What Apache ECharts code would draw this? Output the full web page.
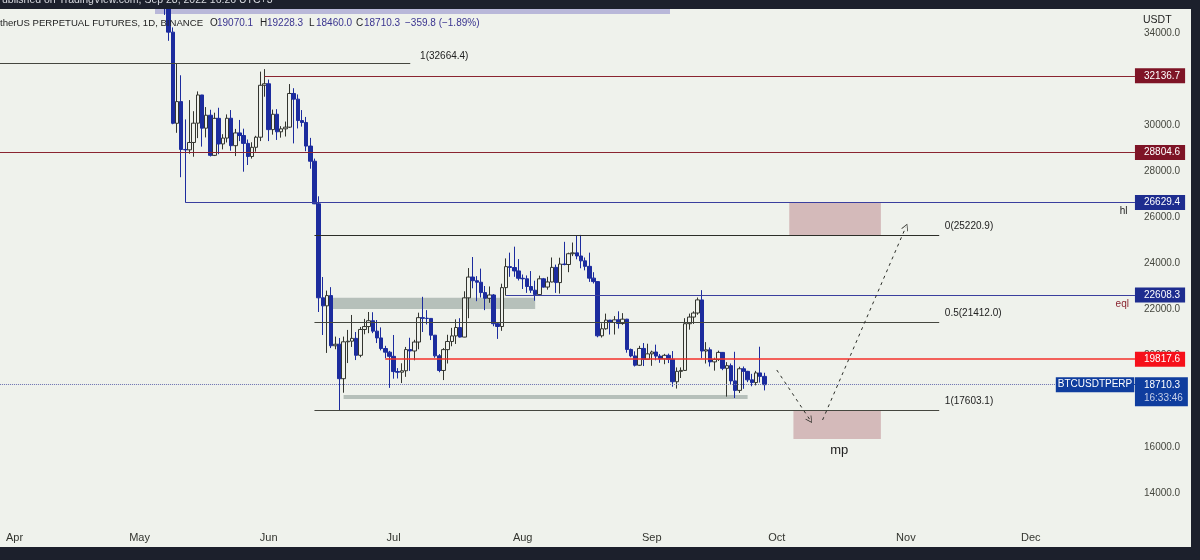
<!DOCTYPE html>
<html>
<head>
<meta charset="utf-8">
<title>BTCUSDTPERP 1D</title>
<script src="https://cdn.jsdelivr.net/npm/echarts@6/dist/echarts.min.js"></script>
<style>
  html, body { margin: 0; padding: 0; background: #1c202c; }
  #chart { width: 1200px; height: 560px; }
</style>
</head>
<body>
<div id="chart"></div>
<script>
// candles, 7 May to 28 Sep 2022, month by month
const firstCandle = "2022-05-07";
const opens = [
  36013,35472,34038,30074,31017,28936,28920,29240,30080,31306,29862,30425,28680,30290,29176,29432,30294,29101,29655,29542,29201,28630,29031,29469,31727,
  31793,29799,30468,29704,29833,29906,31370,31125,30194,30110,29084,28424,26574,22487,22136,22583,20401,20468,18970,20574,20600,20723,19987,21110,21237,21491,21038,20742,20281,20123,
  19942,19279,19252,19315,20236,20175,20564,21624,21594,21591,20862,19963,19328,20234,20588,20830,21195,20779,22485,23389,23231,23164,22714,22465,22609,21361,21239,22930,23843,23804,23656,
  23336,23314,22978,22818,22626,23312,22954,23175,23810,23149,23954,23934,24403,24441,24305,24094,23854,23342,23191,20834,21140,21517,21416,21528,21368,21559,20241,19960,19555,20285,19811,
  20050,20131,19953,19832,19986,19812,18837,19290,19329,21361,21650,21826,22396,20173,20226,19701,19803,20113,19420,19537,18875,18461,19401,19289,18920,18802,19222,19070.1,
];
const closes = [
  35472,34038,30074,31017,28936,28920,29240,30080,31306,29862,30425,28680,30290,29176,29432,30294,29101,29655,29542,29201,28630,29031,29469,31727,31793,
  29799,30468,29704,29833,29906,31370,31125,30194,30110,29084,28424,26574,22487,22136,22583,20401,20468,18970,20574,20600,20723,19987,21110,21237,21491,21038,20742,20281,20123,19942,
  19279,19252,19315,20236,20175,20564,21624,21594,21591,20862,19963,19328,20234,20588,20830,21195,20779,22485,23389,23231,23164,22714,22465,22609,21361,21239,22930,23843,23804,23656,23336,
  23314,22978,22818,22626,23312,22954,23175,23810,23149,23954,23934,24403,24441,24305,24094,23854,23342,23191,20834,21140,21517,21416,21528,21368,21559,20241,19960,19555,20285,19811,20050,
  20131,19953,19832,19986,19812,18837,19290,19329,21361,21650,21826,22396,20173,20226,19701,19803,20113,19420,19537,18875,18461,19401,19289,18920,18802,19222,19070.1,18710.3,
];
const highs = [
  36150,35510,34243,32658,32162,30243,31083,30600,31460,31310,30780,30663,30535,30750,29600,30460,30650,29830,30220,29840,29370,29250,29530,32320,32430,
  31975,30670,30690,29950,30150,31780,31600,31330,30650,30350,29440,28540,26900,23390,22800,22950,20800,20740,20800,21090,21740,21000,21220,21570,21870,21860,21520,21200,20400,20180,
  20870,19430,19640,20350,20750,20660,21840,22530,21950,21600,20870,20040,20300,20880,21180,21550,21600,22770,23780,24260,23430,23756,23000,22980,22650,21400,23100,24200,24450,24710,24170,
  23500,23460,23650,23230,23450,23350,23400,24240,23930,24230,24920,24450,24890,25214,25220.9,24240,24450,23600,23200,21380,21800,21520,21690,21900,21820,21570,20280,20160,20400,20520,20490,
  20190,20450,20040,20050,20060,20170,19460,19460,21600,21800,21900,22500,22820,20560,20330,19880,20190,20130,19690,19630,20140,19490,19500,19310,19180,19310,20360,19228.3,
];
const lows = [
  34785,33660,30033,29660,27730,26629,28751,28620,29430,29060,29460,28630,28650,28730,28940,29240,28880,28650,29300,27970,28260,28540,28840,29300,31230,
  29300,29580,29350,29450,29500,29870,29200,29850,29930,28860,28100,26560,21870,20870,20090,20300,20250,17603,18360,19650,20350,19780,19900,20900,20950,20950,20520,20200,19860,18570,
  18970,18980,18780,19050,19310,19770,20250,21000,21330,20650,19880,19250,18910,19630,20380,20480,20760,20770,21600,22900,22340,22500,21950,22270,21250,20700,21050,22580,23400,23400,23240,
  22870,22700,22700,22360,22590,22930,22840,23160,22700,22670,23900,23600,24300,24160,23770,23680,23180,23110,20770,20760,21100,20890,20890,21150,21310,20100,19900,19500,19530,19520,19800,
  19530,19770,19660,19600,19650,18620,18540,19000,19310,21100,21350,21750,19860,19630,19500,19320,19740,19340,18190,18710,18130,18350,18530,18820,18640,18680,18800,18460,
];

// price levels drawn across the chart
const levelValues = [32664.4, 32136.7, 28804.6, 26629.4, 25220.9, 22608.3, 21412.0, 19817.6, 17603.1];
const levelStarts = ["2022-03-28","2022-05-31","2022-03-28","2022-05-12","2022-06-12","2022-07-28","2022-06-12","2022-06-29","2022-06-12"];
const levelEnds   = ["2022-07-05","2022-12-26","2022-12-26","2022-12-26","2022-11-09","2022-12-26","2022-11-09","2022-12-26","2022-11-09"];
const levelTags   = ["", "32136.7", "28804.6", "26629.4", "", "22608.3", "", "19817.6", ""];

// zones: start, end, top price, bottom price
const zoneStarts  = ["2022-06-16","2022-06-19","2022-10-04","2022-10-05"];
const zoneEnds    = ["2022-08-04","2022-09-24","2022-10-26","2022-10-26"];
const zoneTops    = [22490, 18260, 26629.4, 17603.1];
const zoneBottoms = [22000, 18090, 25220.9, 16350];

// dashed projection
const pathDates  = ["2022-10-01","2022-10-09","2022-10-12","2022-11-01"];
const pathPrices = [19348, 17174, 17174, 25565];

// text notes on the chart
const noteTexts  = ["1(32664.4)","0(25220.9)","0.5(21412.0)","1(17603.1)","mp","hl","eql"];
const noteDates  = ["2022-07-07","2022-11-10","2022-11-10","2022-11-10","2022-10-16","2022-12-22","2022-12-21"];
const notePrices = [33000, 25609, 21826, 18000, 15870, 26261, 22217];

// header strip
const headerTexts = ["O","19070.1","H","19228.3","L","18460.0","C","18710.3","\u2212359.8 (\u22121.89%)"];
const lastPrice = 18710.3;
const lastTimer = "16:33:46";

const FONT = "Liberation Sans";
const BG = "#eff2ec";
const FRAME = "#1c202c";
const BLUE = "#1c2c9e";
const HOLLOW = "#33352f";
const MAROON = "#8a2530";

const levelColors = ["#45473f", MAROON, MAROON, "#3a3f9e", "#2c2e28", "#3a3f9e", "#45473f", "#f5302a", "#45473f"];
const levelWidths = [1.2, 1.2, 1.2, 1.2, 1.2, 1.2, 1.2, 1.5, 1.2];
const tagColors   = ["", "#7e1426", "#7e1426", "#1e2d8f", "", "#1e2d8f", "", "#f6101a", ""];
const zoneColors  = ["#b6c0ba", "#b6c0ba", "#d4baba", "#d4baba"];
const noteColors  = ["#222", "#222", "#222", "#222", "#222", "#222", MAROON];
const noteSizes   = [10, 10, 10, 10, 13, 10, 10];
const headerX     = [210, 217, 260, 267, 309, 316, 356, 364, 405];
const arrowHead = "path://M0,0 L6,10 L5,10.8 L0,2 L-5,10.8 L-6,10 Z";

function dayList(from, to) {
  const days = [];
  const d = new Date(from + "T00:00:00Z");
  const end = new Date(to + "T00:00:00Z");
  while (d <= end) {
    days.push(d.toISOString().slice(0, 10));
    d.setUTCDate(d.getUTCDate() + 1);
  }
  return days;
}

const categories = dayList("2022-03-28", "2022-12-26");
const MONTHS = ["Jan","Feb","Mar","Apr","May","Jun","Jul","Aug","Sep","Oct","Nov","Dec"];
const startIndex = categories.indexOf(firstCandle);

const candleData = categories.map((day, i) => {
  const k = i - startIndex;
  if (k < 0 || k >= opens.length) return "-";
  return [opens[k], closes[k], lows[k], highs[k]];
});

const levelLines = levelValues.map((value, i) => {
  const line = [
    { coord: [levelStarts[i], value] },
    { coord: [levelEnds[i], value] },
  ];
  line[0].lineStyle = { color: levelColors[i], width: levelWidths[i], type: "solid", opacity: 1 };
  line[0].label = levelTags[i] ? {
    show: true, position: "end", distance: 0, formatter: levelTags[i],
    color: "#fff", backgroundColor: tagColors[i], padding: [3, 5, 2, 9],
    fontFamily: FONT, fontSize: 10,
  } : { show: false };
  return line;
});

const lastLine = [
  { coord: ["2022-03-28", lastPrice],
    lineStyle: { color: "#6a70b0", width: 1, type: "dotted", opacity: 1 },
    label: { show: true, position: "end", distance: 0, formatter: "BTCUSDTPERP", color: "#fff",
      backgroundColor: "#0f3d9e", padding: [3, 2, 2, 2], fontFamily: FONT, fontSize: 10 } },
  { coord: ["2022-12-07", lastPrice] },
];
const lastTag = [
  { coord: ["2022-12-25", lastPrice],
    lineStyle: { color: "#0f3d9e", width: 1, type: "solid", opacity: 1 },
    label: { show: true, position: "end", distance: 0, offset: [0, 7], formatter: lastPrice.toFixed(1) + "\n{t|" + lastTimer + "}",
      color: "#fff", backgroundColor: "#0f3d9e", padding: [2, 5, 1, 9], fontFamily: FONT, fontSize: 10, lineHeight: 13,
      rich: { t: { color: "#c6cfe8", fontFamily: FONT, fontSize: 10, lineHeight: 13 } } } },
  { coord: ["2022-12-26", lastPrice] },
];

function arrowLine(a, b) {
  return [
    { coord: [pathDates[a], pathPrices[a]], symbol: "none",
      lineStyle: { color: "#2c2e28", width: 1, type: [3, 4], opacity: 1 }, label: { show: false } },
    { coord: [pathDates[b], pathPrices[b]], symbol: arrowHead, symbolSize: 7 },
  ];
}

const chart = echarts.init(document.getElementById("chart"));

chart.setOption({
  animation: false,
  backgroundColor: BG,
  textStyle: { fontFamily: FONT },
  grid: { left: -4.17, top: 10, width: 1141.2, height: 529, containLabel: false, outerBoundsMode: "none" },
  xAxis: {
    type: "category",
    data: categories,
    boundaryGap: true,
    axisLine: { show: false },
    axisTick: { show: false },
    splitLine: { show: false },
    axisLabel: {
      inside: true,
      margin: -4,
      color: "#33352f",
      fontFamily: FONT,
      fontSize: 11,
      hideOverlap: false,
      interval: (i, day) => day.slice(8) === "01",
      formatter: (day) => MONTHS[Number(day.slice(5, 7)) - 1],
    },
  },
  yAxis: {
    type: "value",
    position: "right",
    min: 12000,
    max: 35000,
    interval: 2000,
    scale: true,
    axisLine: { show: false },
    axisTick: { show: false },
    splitLine: { show: false },
    axisLabel: {
      margin: 7,
      color: "#45473f",
      fontFamily: FONT,
      fontSize: 10,
      showMaxLabel: false,
      formatter: (v) => (v >= 14000 && v <= 34000 ? v.toFixed(1) : ""),
    },
  },
  series: [
    {
      type: "candlestick",
      data: candleData,
      barWidth: 4,
      itemStyle: { color: BG, color0: BLUE, borderColor: HOLLOW, borderColor0: BLUE, borderWidth: 1 },
      markArea: {
        silent: true,
        itemStyle: { opacity: 1 },
        data: zoneTops.map((top, i) => [
          { coord: [zoneStarts[i], top], itemStyle: { color: zoneColors[i] } },
          { coord: [zoneEnds[i], zoneBottoms[i]] },
        ]),
      },
      markLine: {
        silent: true,
        symbol: "none",
        animation: false,
        data: levelLines.concat([lastLine, lastTag, arrowLine(0, 1), arrowLine(2, 3)]),
      },
    },
    {
      type: "scatter",
      symbolSize: 0,
      silent: true,
      itemStyle: { opacity: 1 },
      data: noteTexts.map((text, i) => ({
        name: text,
        value: [noteDates[i], notePrices[i]],
        label: {
          show: true,
          position: text === "mp" ? "inside" : "right",
          distance: 1.5,
          formatter: text,
          color: noteColors[i],
          fontFamily: FONT,
          fontSize: noteSizes[i],
        },
      })),
    },
  ],
  graphic: [
    { type: "rect", z: 1, shape: { x: 155, y: 9, width: 515, height: 5 }, style: { fill: "#b9b8d9" } },
    { type: "rect", z: 100, shape: { x: 0, y: 0, width: 1200, height: 9 }, style: { fill: FRAME } },
    { type: "rect", z: 100, shape: { x: 1191, y: 0, width: 9, height: 560 }, style: { fill: FRAME } },
    { type: "rect", z: 100, shape: { x: 0, y: 547, width: 1200, height: 13 }, style: { fill: FRAME } },
    { type: "text", z: 101, x: -5, y: -5, style: {
      text: "Published on TradingView.com, Sep 28, 2022 16:26 UTC+3",
      fill: "#d8dae0", font: "10.5px '" + FONT + "'" } },
    { type: "text", z: 50, x: 1143, y: 15, style: { text: "USDT", fill: "#222", font: "10.5px '" + FONT + "'" } },
    { type: "text", z: 50, x: 0, y: 18, style: {
      text: "therUS PERPETUAL FUTURES, 1D, BINANCE", fill: "#222", font: "9.6px '" + FONT + "'" } },
  ].concat(headerTexts.map((text, i) => ({
    type: "text", z: 50, x: headerX[i], y: 18,
    style: { text, fill: i < 8 && i % 2 === 0 ? "#222" : "#3a3490", font: "10px '" + FONT + "'" },
  }))),
});
</script>
</body>
</html>
